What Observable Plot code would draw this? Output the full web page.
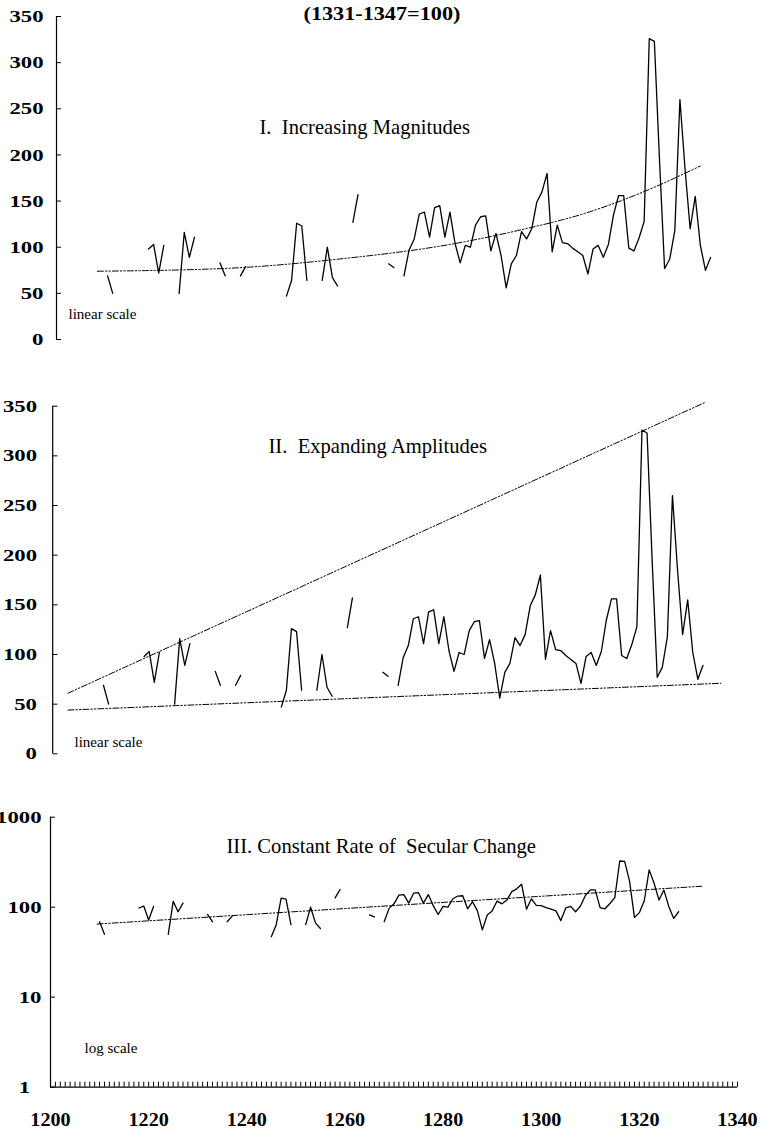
<!DOCTYPE html>
<html><head><meta charset="utf-8">
<script src="https://cdn.jsdelivr.net/npm/d3@7"></script>
<script src="https://cdn.jsdelivr.net/npm/@observablehq/plot@0.6"></script>
<style>
body{margin:0;background:#fff;}
#chart{position:relative;width:762px;height:1129px;overflow:hidden;background:#fff;}
#chart svg{position:absolute;left:0;top:0;}
</style></head><body><div id="chart"></div>
<script>
// ---- data (price index, 1331-1347 = 100) ----
const years = [1210,1211,1212,1213,1214,1215,1216,1217,1218,1219,1220,1221,1222,1223,1224,1225,1226,1227,1228,1229,
1230,1231,1232,1233,1234,1235,1236,1237,1238,1239,1240,1241,1242,1243,1244,1245,1246,1247,1248,1249,
1250,1251,1252,1253,1254,1255,1256,1257,1258,1259,1260,1261,1262,1263,1264,1265,1266,1267,1268,1269,
1270,1271,1272,1273,1274,1275,1276,1277,1278,1279,1280,1281,1282,1283,1284,1285,1286,1287,1288,1289,
1290,1291,1292,1293,1294,1295,1296,1297,1298,1299,1300,1301,1302,1303,1304,1305,1306,1307,1308,1309,
1310,1311,1312,1313,1314,1315,1316,1317,1318,1319,1320,1321,1322,1323,1324,1325,1326,1327,1328];
const values = [69,50,null,null,null,null,null,null,98,103,72,102,null,null,50,116,89,111,null,null,
null,null,83,69,null,null,69,79,null,null,null,null,null,null,null,47,64,126,123,64,
null,null,64,100,67,58,null,null,127,157,null,null,null,null,null,82,78,null,69,97,
109,136,138,111,143,145,111,138,104,83,102,100,124,133,134,96,115,91,56,82,
91,117,109,120,149,160,180,95,124,105,104,99,95,91,71,98,102,89,103,135,
156,156,99,96,110,128,326,323,195,77,87,118,260,185,120,155,102,75,89];

// secular trend (panel I)
const trendIYears = [1208, 1233, 1255, 1278, 1291, 1303, 1314, 1326];
const trendIValues = [74, 77, 87, 104, 119, 136, 158, 188];
// envelope lines (panel II)
const upperIIYears = [1203, 1328.5];
const upperIIValues = [61, 354];
const lowerIIYears = [1203, 1331.5];
const lowerIIValues = [44, 71];
// log-linear trend (panel III)
const trendIIIYears = [1209.5, 1332.7];
const trendIIIValues = [65, 171];

// tick labels
const linearTicks = [0, 50, 100, 150, 200, 250, 300, 350];
const logTicks = [1, 10, 100, 1000];
const yearTicks = [1200, 1220, 1240, 1260, 1280, 1300, 1320, 1340];
const yearMinorTicks = d3.range(1200, 1341);

const chartTitle = "(1331-1347=100)";
const titleI = "I.  Increasing Magnitudes";
const titleII = "II.  Expanding Amplitudes";
const titleIII = "III. Constant Rate of  Secular Change";

// ---- build ----
const series = years.map((year, i) => ({year, value: values[i]}));
const toPts = (xs, ys) => xs.map((x, i) => ({year: x, value: ys[i]}));
const W = 762, H = 1129;
const serif = "'Liberation Serif','Times New Roman',Times,serif";
const dash = "6,2,1.5,2,1.5,2";

function label(txt, x, y, mL, mT, opts = {}) {
  return Plot.text([txt], {frameAnchor: "top-left", dx: x - mL, dy: y - mT,
    textAnchor: "start", lineAnchor: "bottom", fill: "black", fontFamily: serif, ...opts});
}

function yAxes(ticks, pad, fmt) {
  return [
    Plot.axisY(ticks, {tickSize: 5, dx: 5, fill: "none", stroke: "black", strokeWidth: 1, label: null}),
    Plot.axisY(ticks, {tickSize: 0, tickPadding: pad, fontSize: 17.5, fontWeight: "bold", label: null,
      fontFamily: serif, fill: "black", tickFormat: fmt || (d => String(d))})
  ];
}

const style = {background: "transparent", overflow: "visible", fontFamily: serif, color: "black"};

// Panel I
const mI = {top: 16, bottom: H - 339, left: 56};
const p1 = Plot.plot({
  width: W, height: H, marginTop: mI.top, marginBottom: mI.bottom, marginLeft: mI.left, marginRight: 0,
  style,
  x: {domain: [1200, 1330], range: [56, 720.3], axis: null},
  y: {domain: [0, 350], axis: null},
  marks: [
    Plot.ruleX([1200], {stroke: "black", strokeWidth: 1.2}),
    ...yAxes(linearTicks, 13),
    Plot.line(toPts(trendIYears, trendIValues), {x: "year", y: "value", curve: "monotone-x",
      stroke: "black", strokeWidth: 1, strokeDasharray: dash}),
    Plot.line(series, {x: "year", y: "value", stroke: "black", strokeWidth: 1.3}),
    label(chartTitle, 303, 19, mI.left, mI.top, {fontWeight: "bold", fontSize: 18.5}),
    label(titleI, 259, 133, mI.left, mI.top, {fontSize: 20.6}),
    label("linear scale", 68, 318, mI.left, mI.top, {fontSize: 15})
  ]
});

// Panel II
const mII = {top: 405.7, bottom: H - 753.3, left: 52.5};
const p2 = Plot.plot({
  width: W, height: H, marginTop: mII.top, marginBottom: mII.bottom, marginLeft: mII.left, marginRight: 0,
  style,
  x: {domain: [1200, 1330], range: [52.2, 712.6], axis: null},
  y: {domain: [0, 350], axis: null},
  marks: [
    Plot.ruleX([1200], {stroke: "black", strokeWidth: 1.2}),
    ...yAxes(linearTicks, 16),
    Plot.line(toPts(upperIIYears, upperIIValues), {x: "year", y: "value",
      stroke: "black", strokeWidth: 1, strokeDasharray: dash}),
    Plot.line(toPts(lowerIIYears, lowerIIValues), {x: "year", y: "value",
      stroke: "black", strokeWidth: 1, strokeDasharray: dash}),
    Plot.line(series, {x: "year", y: "value", stroke: "black", strokeWidth: 1.3}),
    label(titleII, 268, 452, mII.left, mII.top, {fontSize: 20.6}),
    label("linear scale", 74, 746, mII.left, mII.top, {fontSize: 15})
  ]
});

// Panel III
const mIII = {top: 816.7, bottom: H - 1086.7, left: 50, right: W - 737};
const p3 = Plot.plot({
  width: W, height: H, marginTop: mIII.top, marginBottom: mIII.bottom, marginLeft: mIII.left, marginRight: mIII.right,
  style,
  x: {domain: [1200, 1340], axis: null},
  y: {type: "log", domain: [1, 1000], axis: null},
  marks: [
    Plot.ruleX([1200], {stroke: "black", strokeWidth: 1.2}),
    Plot.ruleY([1], {stroke: "black", strokeWidth: 1.2}),
    ...yAxes(logTicks, 9, d => d === 1 ? "1\u2007" : String(d)),
    Plot.axisX(yearMinorTicks, {tickSize: 5, dy: -5, fill: "none", stroke: "black", strokeWidth: 1, label: null}),
    Plot.axisX(yearTicks, {tickSize: 0, tickPadding: 26, fontSize: 18, fontWeight: "bold", label: null,
      fontFamily: serif, fill: "black", tickFormat: d => String(d)}),
    Plot.line(toPts(trendIIIYears, trendIIIValues), {x: "year", y: "value",
      stroke: "black", strokeWidth: 1, strokeDasharray: dash}),
    Plot.line(series, {x: "year", y: "value", stroke: "black", strokeWidth: 1.3}),
    label(titleIII, 226, 852, mIII.left, mIII.top, {fontSize: 20.6}),
    label("log scale", 84, 1052, mIII.left, mIII.top, {fontSize: 15})
  ]
});

const chart = document.getElementById("chart");
chart.append(p1, p2, p3);

// widen glyphs to match the reference's broad typeface
function stretch(nodes, f) {
  nodes.forEach(t => {
    const L = t.getComputedTextLength();
    t.setAttribute("textLength", (L * f).toFixed(1));
    t.setAttribute("lengthAdjust", "spacingAndGlyphs");
  });
}
chart.querySelectorAll("svg").forEach(svg => {
  stretch(svg.querySelectorAll('g[aria-label="y-axis tick label"] text'), 1.3);
  stretch(svg.querySelectorAll('g[aria-label="x-axis tick label"] text'), 1.12);
  stretch([...svg.querySelectorAll("text")].filter(t => t.textContent === chartTitle), 1.2);
});
</script>
</body></html>
